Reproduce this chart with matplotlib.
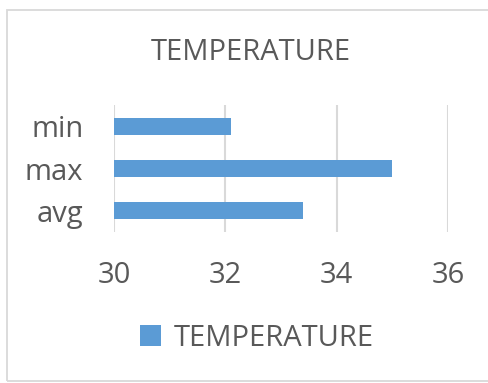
import matplotlib.pyplot as plt
from matplotlib.patches import Rectangle

categories = ["avg", "max", "min"]
values = [33.4, 35.0, 32.1]
x_ticks = [30, 32, 34, 36]
series_name = "TEMPERATURE"

bar_color = "#5b9bd5"
text_color = "#595959"
grid_color = "#d9d9d9"

plt.rcParams["font.family"] = ["Open Sans", "DejaVu Sans"]

W, H = 489, 383
fig = plt.figure(figsize=(W / 100, H / 100), dpi=100)

# outer chart frame (right edge runs off the image)
fig.patches.append(Rectangle((7 / W, 1 - 381 / H), 500 / W, 371 / H,
                             transform=fig.transFigure, fill=False,
                             edgecolor=grid_color, linewidth=1.3))

ax = fig.add_axes([114 / W, 1 - 232 / H, 334 / W, 127 / H])
ax.barh(range(len(categories)), values, left=0, height=0.4,
        color=bar_color, label=series_name, zorder=2)
ax.set_xlim(30, 36)
ax.set_ylim(-0.5, len(categories) - 0.5)
ax.set_xticks(x_ticks)
ax.set_xticklabels([str(t) for t in x_ticks])
ax.set_yticks(range(len(categories)))
ax.set_yticklabels(categories)
ax.xaxis.grid(True, color=grid_color, linewidth=1.5, zorder=0)
ax.set_axisbelow(True)
for side in ax.spines:
    ax.spines[side].set_visible(False)
ax.tick_params(axis="both", length=0, labelsize=21, colors=text_color)
ax.tick_params(axis="x", pad=21)
ax.tick_params(axis="y", pad=22)

fig.text(251 / W, 1 - 53 / H, series_name, ha="center", va="center",
         fontsize=21, color=text_color)

leg = fig.legend(loc="center", bbox_to_anchor=(257 / W, 1 - 338 / H),
                 frameon=False, fontsize=21, handlelength=0.7,
                 handleheight=0.7, handletextpad=0.45)
for t in leg.get_texts():
    t.set_color(text_color)

fig.savefig("out.png", dpi=100)
